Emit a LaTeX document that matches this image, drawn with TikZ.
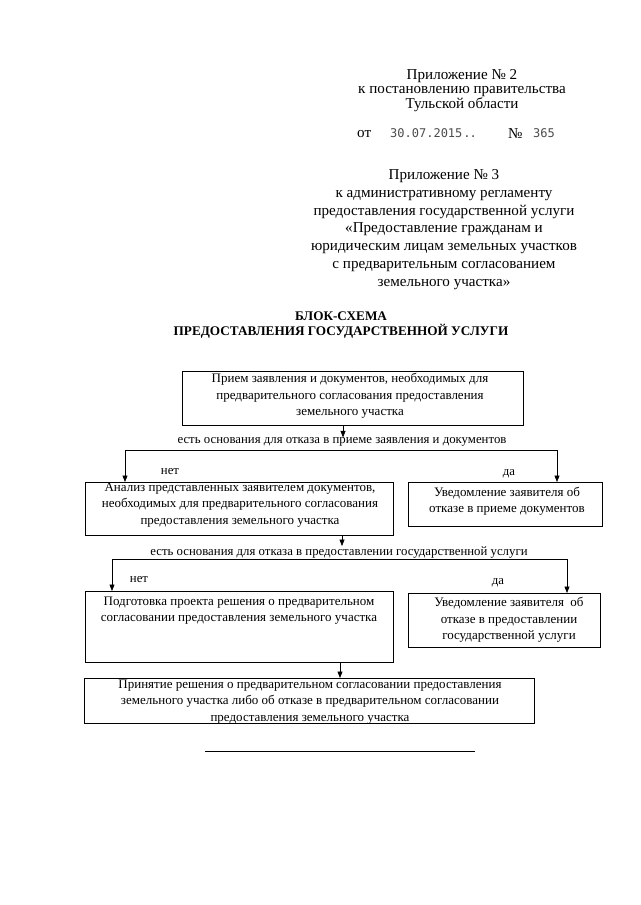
\documentclass[tikz,border=0pt]{standalone}
\usepackage{fontspec}
\setmainfont{Liberation Serif}
\newfontfamily\stampfont{DejaVu Sans Mono}
\usetikzlibrary{arrows.meta}
\begin{document}
\begin{tikzpicture}[x=1pt,y=-1pt,
  box/.style={draw, line width=0.6pt, inner sep=0pt, outer sep=0pt, anchor=north west},
  txt/.style={font=\fontsize{13}{16.5}\selectfont, align=center, inner sep=0pt},
  hdr/.style={font=\fontsize{15.1}{17.8}\selectfont, align=center, inner sep=0pt},
  hdrtight/.style={font=\fontsize{15.1}{14}\selectfont, align=center, inner sep=0pt},
  ttl/.style={font=\fontsize{13.2}{15}\selectfont\bfseries, align=center, inner sep=0pt},
  lbl/.style={font=\fontsize{12.8}{15}\selectfont, inner sep=0pt},
  stamp/.style={font=\fontsize{12}{13}\stampfont, text=black!70, inner sep=0pt},
  ln/.style={line width=0.6pt},
  arr/.style={line width=0.6pt, -{Triangle[length=6.5pt,width=5pt]}}]
\useasboundingbox (0,0) rectangle (640,905);
\fill[white] (0,0) rectangle (640,905);

% header
\node[hdrtight] (h1) at (462,91) {Приложение № 2\\к постановлению правительства\\Тульской области};
\node[hdr, anchor=west] (ot) at (357,134) {от};
\node[stamp, anchor=west] (date) at (390,133) {30.07.2015\hspace{-1.5pt}\hspace{2.5pt}.\hspace{-4pt}\hspace{3pt}.};
\node[hdr, anchor=west] (num) at (508,134) {№};
\node[stamp, anchor=west] (numv) at (533,133) {365};
\node[hdr] (h2) at (444,229.5) {Приложение № 3\\к административному регламенту\\предоставления государственной услуги\\«Предоставление гражданам и\\юридическим лицам земельных участков\\с предварительным согласованием\\земельного участка»};
\node[ttl] (title) at (341,325) {БЛОК-СХЕМА\\ПРЕДОСТАВЛЕНИЯ ГОСУДАРСТВЕННОЙ УСЛУГИ};

% boxes
\node[box, minimum width=341pt, minimum height=54pt] (b1) at (182,371) {};
\node[txt] (t1) at (350,396) {Прием заявления и документов, необходимых для\\предварительного согласования предоставления\\земельного участка};

\node[box, minimum width=308pt, minimum height=53pt] (b2L) at (85,482) {};
\node[txt] (t2L) at (240,505) {Анализ представленных заявителем документов,\\необходимых для предварительного согласования\\предоставления земельного участка};

\node[box, minimum width=194pt, minimum height=44pt] (b2R) at (408,482) {};
\node[txt] (t2R) at (507,501) {Уведомление заявителя об\\отказе в приеме документов};

\node[box, minimum width=308pt, minimum height=71pt] (b3L) at (85,591) {};
\node[txt] (t3L) at (239,610.5) {Подготовка проекта решения о предварительном\\согласовании предоставления земельного участка};

\node[box, minimum width=192pt, minimum height=54pt] (b3R) at (408,593) {};
\node[txt] (t3R) at (509,620) {Уведомление заявителя\ \ об\\отказе в предоставлении\\государственной услуги};

\node[box, minimum width=450pt, minimum height=45pt] (b4) at (84,678) {};
\node[txt] (t4) at (310,702) {Принятие решения о предварительном согласовании предоставления\\земельного участка либо об отказе в предварительном согласовании\\предоставления земельного участка};

% first decision
\node[lbl] (l1) at (342,442) {есть основания для отказа в приеме заявления и документов};
\coordinate (j1) at (343,450);
\coordinate (j1L) at (125,450);
\coordinate (j1R) at (557,450);
\draw[arr] (b1.south -| j1) -- (l1.north -| j1);
\draw[ln] (j1L) -- (j1R);
\draw[arr] (j1L) -- (j1L |- b2L.north);
\draw[arr] (j1R) -- (j1R |- b2R.north);
\node[lbl] (no1) at (170,472) {нет};
\node[lbl] (yes1) at (509,474) {да};

% second decision
\node[lbl] (l2) at (339,552) {есть основания для отказа в предоставлении государственной услуги};
\coordinate (j2) at (342,559);
\coordinate (j2L) at (112,559);
\coordinate (j2R) at (567,559);
\draw[arr] (b2L.south -| j2) -- (l2.north -| j2);
\draw[ln] (j2L) -- (j2R);
\draw[arr] (j2L) -- (j2L |- b3L.north);
\draw[arr] (j2R) -- (j2R |- b3R.north);
\node[lbl] (no2) at (139,580) {нет};
\node[lbl] (yes2) at (498,583) {да};

% to final
\coordinate (j3) at (340,0);
\draw[arr] (b3L.south -| j3) -- (b4.north -| j3);

% bottom rule
\draw[line width=0.8pt] (205,751) -- (475,751);
\end{tikzpicture}
\end{document}
